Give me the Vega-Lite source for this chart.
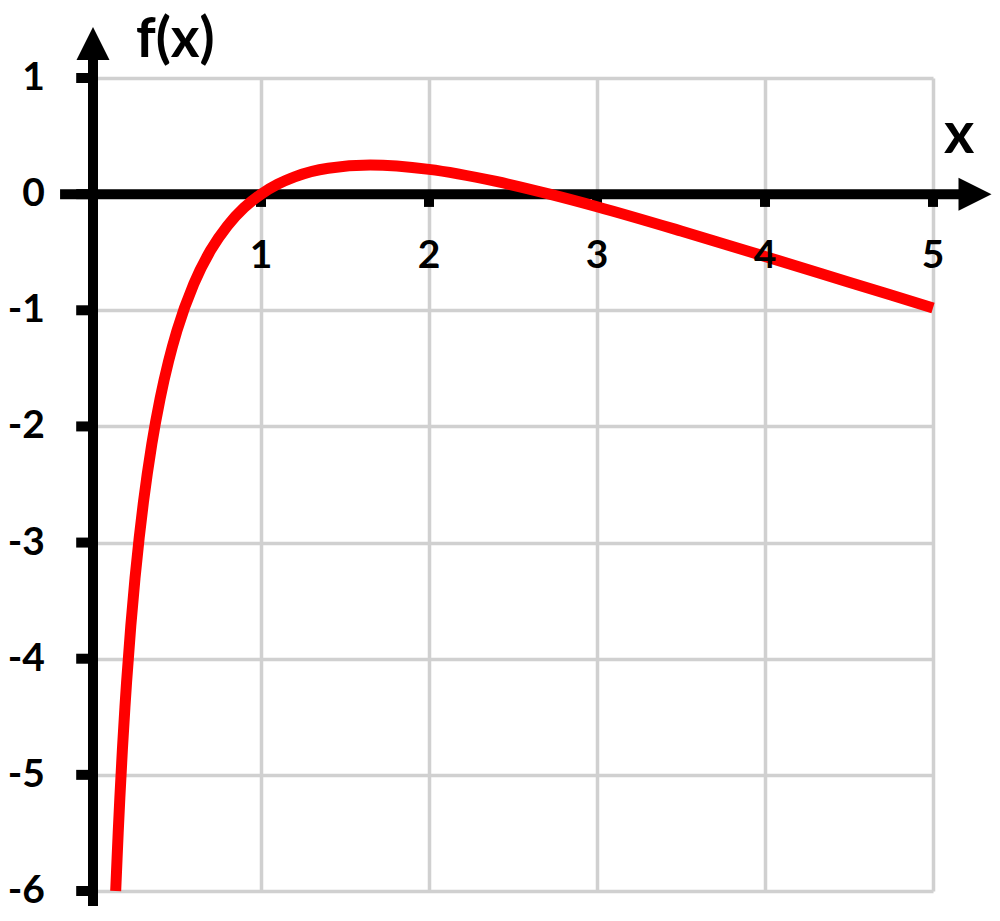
{
  "$schema": "https://vega.github.io/schema/vega-lite/v6.json",
  "width": 840,
  "height": 813,
  "autosize": {"type": "none"},
  "padding": {"left": 93, "top": 78, "right": 67, "bottom": 30},
  "background": "white",
  "config": {
    "view": {"stroke": null},
    "font": "Lato",
    "axis": {"grid": true, "labels": false, "ticks": false, "domain": false, "gridColor": "#d0d0d0", "gridWidth": 3.5},
    "axisX": {"tickCount": 5},
    "axisY": {"tickCount": 7}
  },
  "datasets": {
    "curve": [
      {"x": 0.135, "y": -6.0},
      {"x": 0.14, "y": -5.832},
      {"x": 0.15, "y": -5.496},
      {"x": 0.16, "y": -5.192},
      {"x": 0.175, "y": -4.781},
      {"x": 0.19, "y": -4.419},
      {"x": 0.2, "y": -4.2},
      {"x": 0.225, "y": -3.717},
      {"x": 0.25, "y": -3.308},
      {"x": 0.275, "y": -2.958},
      {"x": 0.3, "y": -2.654},
      {"x": 0.35, "y": -2.152},
      {"x": 0.4, "y": -1.756},
      {"x": 0.45, "y": -1.437},
      {"x": 0.5, "y": -1.174},
      {"x": 0.6, "y": -0.772},
      {"x": 0.7, "y": -0.484},
      {"x": 0.8, "y": -0.273},
      {"x": 0.9, "y": -0.116},
      {"x": 1.0, "y": 0.0},
      {"x": 1.1, "y": 0.086},
      {"x": 1.2, "y": 0.149},
      {"x": 1.4, "y": 0.223},
      {"x": 1.65, "y": 0.25},
      {"x": 2.0, "y": 0.213},
      {"x": 2.4, "y": 0.109},
      {"x": 2.718, "y": 0.0},
      {"x": 3.0, "y": -0.108},
      {"x": 3.5, "y": -0.317},
      {"x": 4.0, "y": -0.536},
      {"x": 4.5, "y": -0.758},
      {"x": 5.0, "y": -0.98}
    ],
    "xticks": [{"v": 1, "t": "1"}, {"v": 2, "t": "2"}, {"v": 3, "t": "3"}, {"v": 4, "t": "4"}, {"v": 5, "t": "5"}],
    "yticks": [{"v": -6, "t": "-6"}, {"v": -5, "t": "-5"}, {"v": -4, "t": "-4"}, {"v": -3, "t": "-3"}, {"v": -2, "t": "-2"}, {"v": -1, "t": "-1"}, {"v": 0, "t": "0"}, {"v": 1, "t": "1"}],
    "one": [{"a": 1}],
    "fx": [{"label": "f(x)"}],
    "xl": [{"label": "x"}]
  },
  "layer": [
    {
      "data": {"name": "one"},
      "mark": {"type": "rule", "color": "black", "strokeWidth": 10},
      "encoding": {
        "x": {"datum": -0.196, "type": "quantitative", "scale": {"domain": [0, 5], "nice": false, "zero": false}, "title": null},
        "x2": {"datum": 5.2},
        "y": {"datum": 0, "type": "quantitative", "scale": {"domain": [-6, 1], "nice": false, "zero": false}, "title": null}
      }
    },
    {
      "data": {"name": "one"},
      "mark": {"type": "rule", "color": "black", "strokeWidth": 10},
      "encoding": {
        "x": {"datum": 0, "type": "quantitative"},
        "y": {"datum": -6.13, "type": "quantitative"},
        "y2": {"datum": 1.2}
      }
    },
    {
      "data": {"name": "xticks"},
      "mark": {"type": "rule", "color": "black", "strokeWidth": 10},
      "encoding": {
        "x": {"field": "v", "type": "quantitative", "title": null},
        "y": {"datum": 0, "type": "quantitative"},
        "y2": {"datum": -0.11}
      }
    },
    {
      "data": {"name": "yticks"},
      "mark": {"type": "rule", "color": "black", "strokeWidth": 10},
      "encoding": {
        "x": {"datum": -0.1, "type": "quantitative"},
        "x2": {"datum": 0},
        "y": {"field": "v", "type": "quantitative", "title": null}
      }
    },
    {
      "data": {"name": "one"},
      "mark": {"type": "point", "shape": "M-1,1L0,-1L1,1Z", "filled": true, "color": "black", "opacity": 1, "size": 1089, "strokeWidth": 0},
      "encoding": {
        "x": {"datum": 0, "type": "quantitative"},
        "y": {"datum": 1.297, "type": "quantitative"}
      }
    },
    {
      "data": {"name": "one"},
      "mark": {"type": "point", "shape": "M-1,-1L1,0L-1,1Z", "filled": true, "color": "black", "opacity": 1, "size": 1089, "strokeWidth": 0},
      "encoding": {
        "x": {"datum": 5.25, "type": "quantitative"},
        "y": {"datum": 0, "type": "quantitative"}
      }
    },
    {
      "data": {"name": "curve"},
      "mark": {"type": "line", "color": "#ff0000", "strokeWidth": 11, "interpolate": "monotone"},
      "encoding": {
        "x": {"field": "x", "type": "quantitative", "title": null},
        "y": {"field": "y", "type": "quantitative", "title": null}
      }
    },
    {
      "data": {"name": "xticks"},
      "mark": {"type": "text", "font": "Lato", "fontWeight": "bold", "fontSize": 39, "align": "center", "baseline": "middle", "color": "black"},
      "encoding": {
        "x": {"field": "v", "type": "quantitative", "title": null},
        "y": {"datum": -0.533, "type": "quantitative"},
        "text": {"field": "t", "type": "nominal"}
      }
    },
    {
      "data": {"name": "yticks"},
      "mark": {"type": "text", "font": "Lato", "fontWeight": "bold", "fontSize": 39, "align": "right", "baseline": "middle", "color": "black"},
      "encoding": {
        "x": {"datum": -0.286, "type": "quantitative"},
        "y": {"field": "v", "type": "quantitative", "title": null},
        "text": {"field": "t", "type": "nominal"}
      }
    },
    {
      "data": {"name": "fx"},
      "mark": {"type": "text", "font": "Lato", "fontWeight": "bold", "fontSize": 55, "align": "center", "baseline": "middle", "color": "black"},
      "encoding": {
        "x": {"datum": 0.49, "type": "quantitative"},
        "y": {"datum": 1.33, "type": "quantitative"},
        "text": {"field": "label", "type": "nominal"}
      }
    },
    {
      "data": {"name": "xl"},
      "mark": {"type": "text", "font": "Lato", "fontWeight": "bold", "fontSize": 58, "align": "center", "baseline": "middle", "color": "black"},
      "encoding": {
        "x": {"datum": 5.155, "type": "quantitative"},
        "y": {"datum": 0.5, "type": "quantitative"},
        "text": {"field": "label", "type": "nominal"}
      }
    }
  ]
}
